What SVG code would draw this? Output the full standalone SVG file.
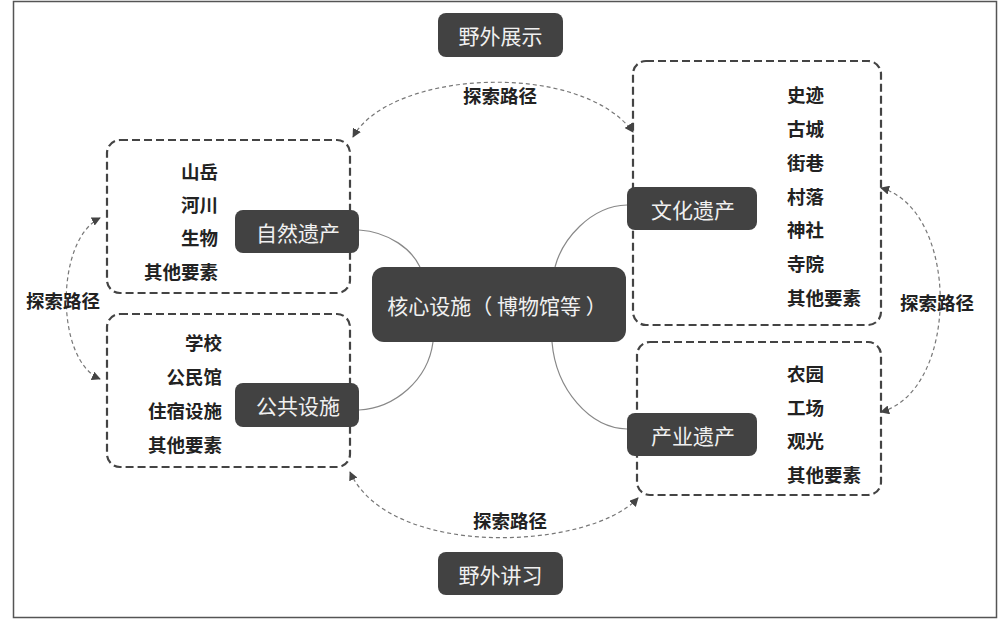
<svg xmlns="http://www.w3.org/2000/svg" width="1000" height="621" viewBox="0 0 1000 621">
<style>
.node rect{fill:#424242;}
.node text{fill:#f0f0f0;font-family:"Noto Sans CJK SC","Noto Sans",sans-serif;font-size:21px;text-anchor:middle;dominant-baseline:central;}
.grp{fill:none;stroke:#444;stroke-width:2.2;stroke-dasharray:8 4;}
.item{fill:#222;font-family:"Noto Sans CJK SC",sans-serif;font-size:18.5px;font-weight:bold;dominant-baseline:central;}
.r{text-anchor:end;}
.l{text-anchor:start;}
.link{fill:none;stroke:#888;stroke-width:1.2;}
.path{fill:none;stroke:#777;stroke-width:1.2;stroke-dasharray:4 3;marker-start:url(#ah);marker-end:url(#ah);}
.lbl{fill:#222;font-family:"Noto Sans CJK SC",sans-serif;font-size:18.5px;font-weight:bold;text-anchor:middle;dominant-baseline:central;}
</style>
<defs>
<marker id="ah" viewBox="0 0 10 10" refX="9" refY="5" markerWidth="9" markerHeight="9" markerUnits="userSpaceOnUse" orient="auto-start-reverse">
<path d="M0,0 L10,5 L0,10 z" fill="#444"/>
</marker>
</defs>
<rect x="0" y="0" width="1000" height="621" fill="#fff"/>
<rect x="13.5" y="1.5" width="983" height="616" fill="none" stroke="#555" stroke-width="1.5"/>

<g id="connectors">
<path class="link" d="M359,230 C390,232 412,250 420,267"/>
<path class="link" d="M433,342 C428,380 395,408 359,410"/>
<path class="link" d="M627,205 C590,206 562,240 555,267"/>
<path class="link" d="M552,342 C556,390 590,428 627,429"/>
<path class="path" d="M353,137 C390,70 580,60 633,132"/>
<path class="path" d="M100,218 C55,240 55,360 100,379"/>
<path class="path" d="M881,188 C960,210 960,390 881,412"/>
<path class="path" d="M350,472 C390,560 590,550 638,498"/>
<text class="lbl" x="500" y="95">探索路径</text>
<text class="lbl" x="63" y="300">探索路径</text>
<text class="lbl" x="937" y="302">探索路径</text>
<text class="lbl" x="510" y="520">探索路径</text>
</g>

<g id="group-natural">
<rect class="grp" x="107" y="140" width="243" height="153" rx="13"/>
<text class="item r" x="218" y="171">山岳</text>
<text class="item r" x="218" y="204">河川</text>
<text class="item r" x="218" y="237">生物</text>
<text class="item r" x="218" y="271">其他要素</text>
</g>
<g id="group-public">
<rect class="grp" x="107" y="314" width="243" height="153" rx="13"/>
<text class="item r" x="222" y="342">学校</text>
<text class="item r" x="222" y="376">公民馆</text>
<text class="item r" x="222" y="410">住宿设施</text>
<text class="item r" x="222" y="444">其他要素</text>
</g>
<g id="group-cultural">
<rect class="grp" x="633" y="61" width="248" height="264" rx="13"/>
<text class="item l" x="787" y="94">史迹</text>
<text class="item l" x="787" y="128">古城</text>
<text class="item l" x="787" y="162">街巷</text>
<text class="item l" x="787" y="196">村落</text>
<text class="item l" x="787" y="229">神社</text>
<text class="item l" x="787" y="263">寺院</text>
<text class="item l" x="787" y="297">其他要素</text>
</g>
<g id="group-industrial">
<rect class="grp" x="637" y="342" width="244" height="153" rx="13"/>
<text class="item l" x="787" y="373">农园</text>
<text class="item l" x="787" y="407">工场</text>
<text class="item l" x="787" y="440">观光</text>
<text class="item l" x="787" y="474">其他要素</text>
</g>

<g id="node-field-display" class="node">
<rect x="438" y="13" width="125" height="44" rx="8"/>
<text x="500.5" y="35">野外展示</text>
</g>
<g id="node-field-lecture" class="node">
<rect x="438" y="552" width="125" height="43" rx="8"/>
<text x="500.5" y="574">野外讲习</text>
</g>
<g id="node-core" class="node">
<rect x="372" y="267" width="254" height="75" rx="12"/>
<text x="497" y="304.5">核心设施（ 博物馆等 ）</text>
</g>
<g id="node-natural" class="node">
<rect x="235" y="210" width="124" height="43" rx="8"/>
<text x="298" y="232">自然遗产</text>
</g>
<g id="node-public" class="node">
<rect x="235" y="383" width="124" height="44" rx="8"/>
<text x="298" y="405">公共设施</text>
</g>
<g id="node-cultural" class="node">
<rect x="627" y="187" width="130" height="43" rx="8"/>
<text x="693" y="209">文化遗产</text>
</g>
<g id="node-industrial" class="node">
<rect x="627" y="413" width="130" height="43" rx="8"/>
<text x="693" y="435">产业遗产</text>
</g>
</svg>
